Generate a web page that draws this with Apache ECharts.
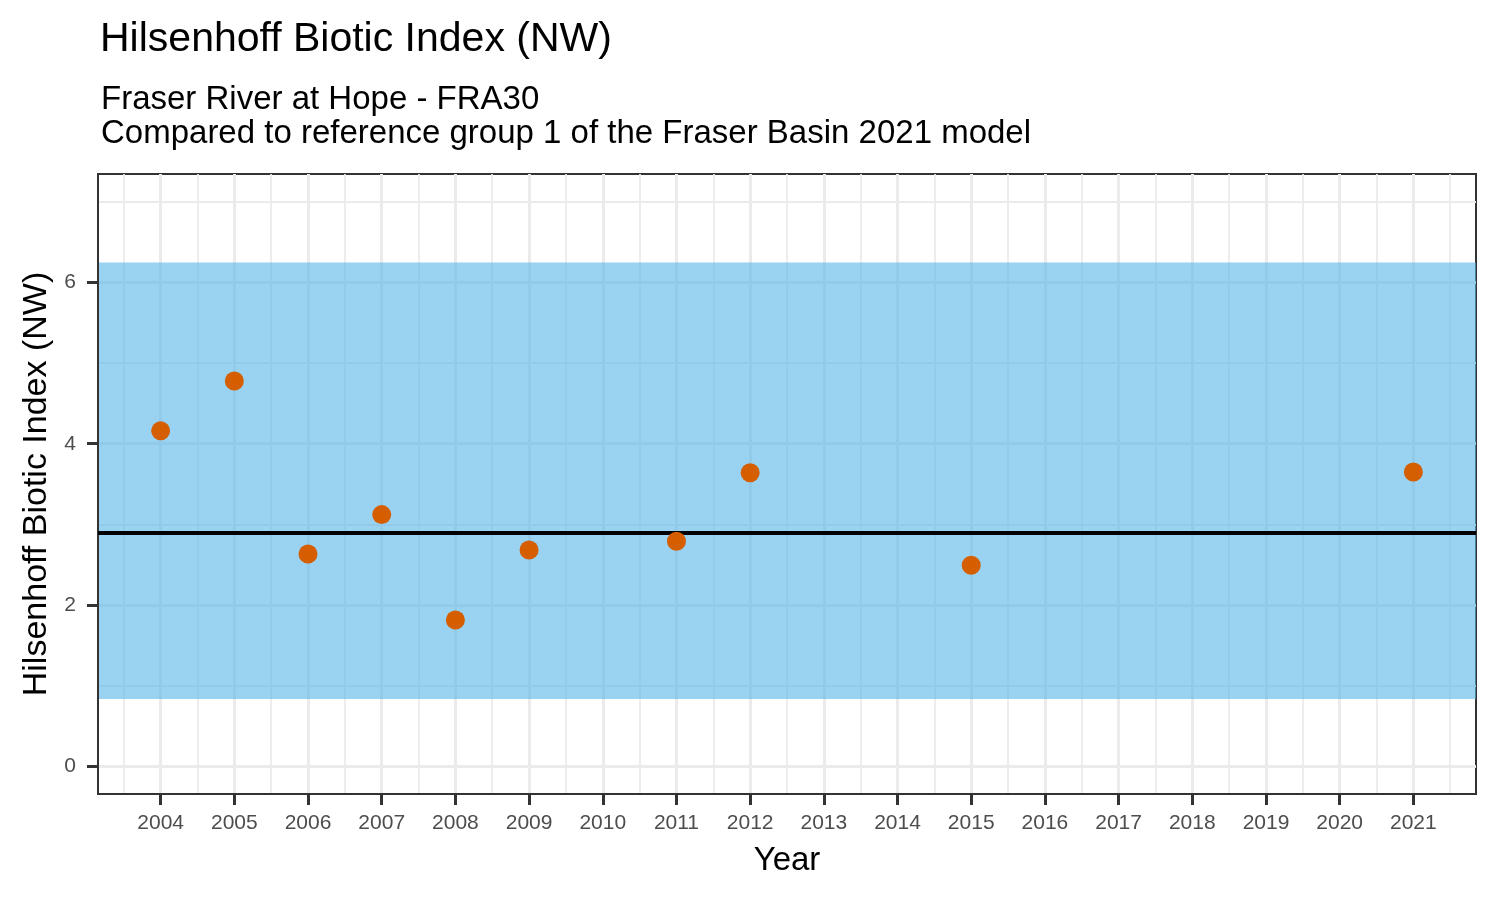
<!DOCTYPE html>
<html>
<head>
<meta charset="utf-8">
<script src="https://cdn.jsdelivr.net/npm/echarts@6/dist/echarts.min.js"></script>
<style>
html,body{margin:0;padding:0;background:#fff;}
#chart{width:1500px;height:900px;}
</style>
</head>
<body>
<div id="chart"></div>
<script>
// ---- data ----
var years = [2004, 2005, 2006, 2007, 2008, 2009, 2011, 2012, 2015, 2021];
var hbiValues = [4.16, 4.78, 2.63, 3.12, 1.81, 2.68, 2.79, 3.64, 2.49, 3.65];
var bandLower = 0.83;
var bandUpper = 6.25;
var referenceLine = 2.89;
var xMajorTicks = [2004,2005,2006,2007,2008,2009,2010,2011,2012,2013,2014,2015,2016,2017,2018,2019,2020,2021];
var xMinorTicks = [2003.5,2004.5,2005.5,2006.5,2007.5,2008.5,2009.5,2010.5,2011.5,2012.5,2013.5,2014.5,2015.5,2016.5,2017.5,2018.5,2019.5,2020.5,2021.5];
var yMajorTicks = [0, 2, 4, 6];
var yMinorTicks = [1, 3, 5, 7];
var xRange = [2003.15, 2021.85];
var yRange = [-0.35, 7.35];
var titleText = 'Hilsenhoff Biotic Index (NW)';
var subtitleLines = ['Fraser River at Hope - FRA30', 'Compared to reference group 1 of the Fraser Basin 2021 model'];
var xTitle = 'Year';
var yTitle = 'Hilsenhoff Biotic Index (NW)';

var FONT = '"Liberation Sans", Arial, Helvetica, sans-serif';
var chart = echarts.init(document.getElementById('chart'), null, {renderer: 'canvas'});

var points = years.map(function (y, i) { return [y, hbiValues[i]]; });

var option = {
  animation: false,
  backgroundColor: '#ffffff',
  title: [
    {text: titleText, left: 95, top: 14, textStyle: {fontFamily: FONT, fontSize: 41, fontWeight: 'normal', color: '#000'}},
    {text: subtitleLines[0], left: 96, top: 78, textStyle: {fontFamily: FONT, fontSize: 33, fontWeight: 'normal', color: '#000'}},
    {text: subtitleLines[1], left: 96, top: 112, textStyle: {fontFamily: FONT, fontSize: 33, fontWeight: 'normal', color: '#000'}}
  ],
  grid: {left: 98, top: 174, right: 24, bottom: 106, show: true, borderColor: '#333333', borderWidth: 2, backgroundColor: 'transparent', containLabel: false},
  xAxis: [
    {
      type: 'value', min: xRange[0], max: xRange[1],
      name: xTitle, nameLocation: 'middle', nameGap: 50,
      nameTextStyle: {fontFamily: FONT, fontSize: 33, color: '#000'},
      axisLine: {show: true, onZero: false, lineStyle: {color: '#333333', width: 2}},
      axisTick: {show: true, inside: false, customValues: xMajorTicks, length: 11, lineStyle: {color: '#333333', width: 3}},
      axisLabel: {show: true, customValues: xMajorTicks, margin: 19, fontFamily: FONT, fontSize: 21, color: '#4D4D4D', formatter: function (v) { return String(Math.round(v)); }},
      splitLine: {show: true, lineStyle: {color: '#EBEBEB', width: 3}},
      z: 1
    },
    {
      type: 'value', min: xRange[0], max: xRange[1], position: 'bottom',
      axisLine: {show: false, onZero: false},
      axisTick: {show: false, customValues: xMinorTicks},
      axisLabel: {show: false},
      splitLine: {show: true, lineStyle: {color: '#EBEBEB', width: 1.8}},
      z: 0
    }
  ],
  yAxis: [
    {
      type: 'value', min: yRange[0], max: yRange[1],
      name: yTitle, nameLocation: 'middle', nameGap: 44, nameRotate: 90,
      nameTextStyle: {fontFamily: FONT, fontSize: 34, color: '#000'},
      axisLine: {show: true, onZero: false, lineStyle: {color: '#333333', width: 2}},
      axisTick: {show: true, customValues: yMajorTicks, length: 11, lineStyle: {color: '#333333', width: 3}},
      axisLabel: {show: true, customValues: yMajorTicks, margin: 22, fontFamily: FONT, fontSize: 21, color: '#4D4D4D'},
      splitLine: {show: true, lineStyle: {color: '#EBEBEB', width: 3}},
      z: 1
    },
    {
      type: 'value', min: yRange[0], max: yRange[1], position: 'left',
      axisLine: {show: false, onZero: false},
      axisTick: {show: false, customValues: yMinorTicks},
      axisLabel: {show: false},
      splitLine: {show: true, lineStyle: {color: '#EBEBEB', width: 1.8}},
      z: 0
    }
  ],
  series: [
    {
      type: 'line', xAxisIndex: 0, yAxisIndex: 0, data: [], silent: true, z: 2,
      markArea: {
        silent: true,
        itemStyle: {color: '#56B4E9', opacity: 0.6},
        data: [[{yAxis: bandLower}, {yAxis: bandUpper}]]
      },
      markLine: {
        silent: true, symbol: 'none', label: {show: false},
        lineStyle: {color: '#000000', width: 4, type: 'solid'},
        data: [{yAxis: referenceLine}]
      }
    },
    {
      type: 'scatter', xAxisIndex: 0, yAxisIndex: 0, z: 5,
      symbol: 'circle', symbolSize: 19,
      itemStyle: {color: '#D55E00', opacity: 1},
      data: points
    }
  ]
};
chart.setOption(option);
</script>
</body>
</html>
